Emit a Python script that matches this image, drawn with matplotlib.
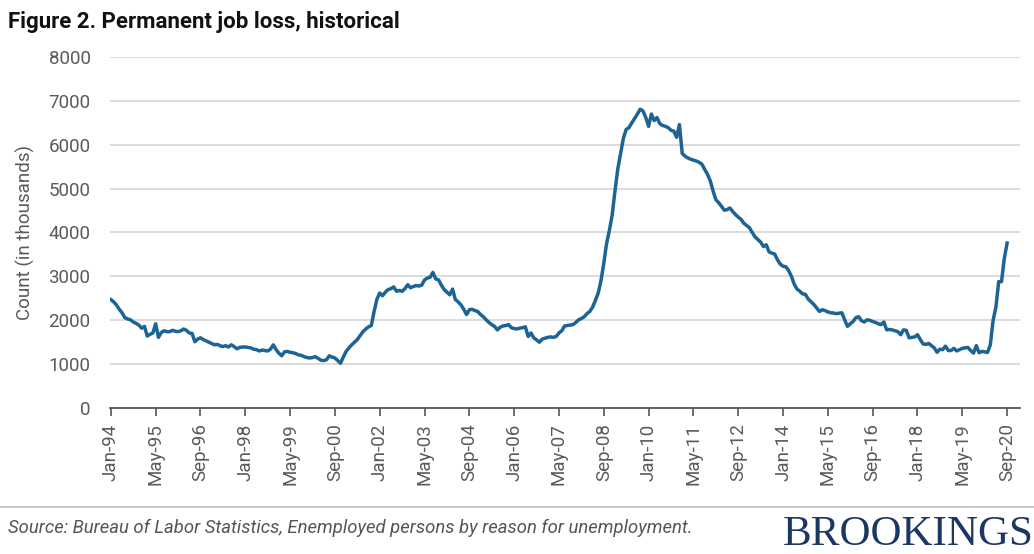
import matplotlib
matplotlib.use("Agg")
import matplotlib.pyplot as plt
import numpy as np

# monthly count of permanent job losers (thousands), Jan 1994 .. Sep 2020
y1994 = [2470, 2420, 2350, 2250, 2170, 2060, 2030, 2010, 1960, 1930, 1890, 1820]
y1995 = [1860, 1640, 1680, 1710, 1920, 1610, 1720, 1760, 1740, 1740, 1770, 1750]
y1996 = [1740, 1760, 1800, 1770, 1710, 1700, 1510, 1570, 1600, 1560, 1530, 1500]
y1997 = [1470, 1440, 1450, 1420, 1400, 1420, 1390, 1440, 1400, 1350, 1380, 1390]
y1998 = [1390, 1380, 1370, 1340, 1330, 1300, 1320, 1310, 1300, 1340, 1440, 1330]
y1999 = [1250, 1190, 1280, 1290, 1270, 1260, 1240, 1210, 1200, 1170, 1150, 1140]
y2000 = [1150, 1170, 1130, 1090, 1080, 1100, 1190, 1160, 1140, 1080, 1020, 1160]
y2001 = [1290, 1370, 1440, 1500, 1560, 1650, 1740, 1800, 1850, 1880, 2200, 2480]
y2002 = [2620, 2560, 2640, 2700, 2720, 2760, 2660, 2680, 2660, 2720, 2810, 2740]
y2003 = [2770, 2790, 2780, 2800, 2920, 2960, 2980, 3090, 2940, 2920, 2800, 2700]
y2004 = [2640, 2580, 2710, 2470, 2420, 2350, 2250, 2130, 2240, 2250, 2220, 2200]
y2005 = [2130, 2080, 2010, 1950, 1900, 1860, 1780, 1840, 1870, 1880, 1900, 1830]
y2006 = [1810, 1800, 1820, 1830, 1850, 1630, 1710, 1600, 1550, 1500, 1570, 1590]
y2007 = [1610, 1620, 1610, 1630, 1710, 1760, 1870, 1880, 1890, 1900, 1950, 2010]
y2008 = [2040, 2080, 2150, 2200, 2300, 2450, 2620, 2900, 3300, 3750, 4050, 4400]
y2009 = [4950, 5450, 5800, 6150, 6350, 6390, 6500, 6600, 6700, 6810, 6770, 6620]
y2010 = [6420, 6700, 6550, 6620, 6480, 6440, 6420, 6390, 6330, 6310, 6170, 6460]
y2011 = [5800, 5740, 5700, 5670, 5650, 5630, 5600, 5560, 5440, 5330, 5180, 4950]
y2012 = [4750, 4680, 4600, 4510, 4520, 4560, 4480, 4410, 4350, 4300, 4210, 4160]
y2013 = [4110, 4000, 3900, 3840, 3780, 3680, 3720, 3560, 3530, 3510, 3380, 3280]
y2014 = [3230, 3220, 3130, 3000, 2820, 2710, 2660, 2600, 2590, 2480, 2420, 2360]
y2015 = [2280, 2200, 2240, 2220, 2190, 2170, 2165, 2150, 2160, 2170, 2010, 1860]
y2016 = [1920, 1970, 2060, 2080, 1990, 1960, 2010, 2000, 1970, 1950, 1920, 1900]
y2017 = [1960, 1780, 1790, 1780, 1760, 1740, 1670, 1780, 1770, 1600, 1610, 1620]
y2018 = [1670, 1560, 1460, 1450, 1470, 1420, 1370, 1270, 1340, 1330, 1410, 1310]
y2019 = [1310, 1360, 1300, 1330, 1360, 1370, 1380, 1310, 1250, 1420, 1260, 1290]
y2020 = [1280, 1265, 1440, 2000, 2300, 2880, 2880, 3410, 3760]

counts = (y1994 + y1995 + y1996 + y1997 + y1998 + y1999 + y2000 + y2001 + y2002
          + y2003 + y2004 + y2005 + y2006 + y2007 + y2008 + y2009 + y2010 + y2011
          + y2012 + y2013 + y2014 + y2015 + y2016 + y2017 + y2018 + y2019 + y2020)

tick_labels = ["Jan-94", "May-95", "Sep-96", "Jan-98", "May-99", "Sep-00", "Jan-02",
               "May-03", "Sep-04", "Jan-06", "May-07", "Sep-08", "Jan-10", "May-11",
               "Sep-12", "Jan-14", "May-15", "Sep-16", "Jan-18", "May-19", "Sep-20"]
y_ticks = [0, 1000, 2000, 3000, 4000, 5000, 6000, 7000, 8000]

plt.rcParams["font.family"] = ["Roboto", "DejaVu Sans"]

W, H = 1034, 554
fig = plt.figure(figsize=(W / 100, H / 100), dpi=100)
ax = fig.add_axes([110 / W, (H - 408) / H, 910 / W, 351 / H])

months = np.arange(len(counts))
ax.plot(months, counts, color="#1d6494", lw=2.5, solid_joinstyle="round")

ax.set_xlim(-0.3, 324.6)
ax.set_ylim(0, 8000)
ax.set_yticks(y_ticks)
ax.set_yticklabels([str(v) for v in y_ticks], fontsize=13.5, color="#5a5a5a")
ax.set_xticks(np.arange(len(tick_labels)) * 16)
ax.set_xticklabels(tick_labels, rotation=90, fontsize=13.5, color="#5a5a5a")
ax.tick_params(axis="y", length=0, pad=14)
ax.tick_params(axis="x", length=6, width=1.2, color="#555555", pad=5)

ax.grid(axis="y", color="#d9d9d9", lw=1.3)
ax.set_axisbelow(True)
for side in ["top", "right", "left"]:
    ax.spines[side].set_visible(False)
ax.spines["bottom"].set_color("#555555")
ax.spines["bottom"].set_linewidth(1.3)

ax.set_ylabel("Count (in thousands)", fontsize=13.5, color="#5a5a5a", labelpad=10)

fig.text(8 / W, 1 - 22 / H, "Figure 2. Permanent job loss, historical", fontsize=16,
         fontweight="bold", color="#111111", va="center", ha="left")

fig.add_artist(plt.Line2D([0, 1], [1 - 507 / H, 1 - 507 / H], color="#bdbdbd", lw=1.2))
fig.text(8 / W, 1 - 528 / H,
         "Source: Bureau of Labor Statistics, Enemployed persons by reason for unemployment.",
         fontsize=13.3, style="italic", color="#555555", va="center", ha="left")
fig.text(783 / W, 1 - 535 / H, "BROOKINGS", fontsize=31, family="Liberation Serif",
         color="#1c3664", va="center", ha="left")

fig.savefig("out.png", dpi=100)
